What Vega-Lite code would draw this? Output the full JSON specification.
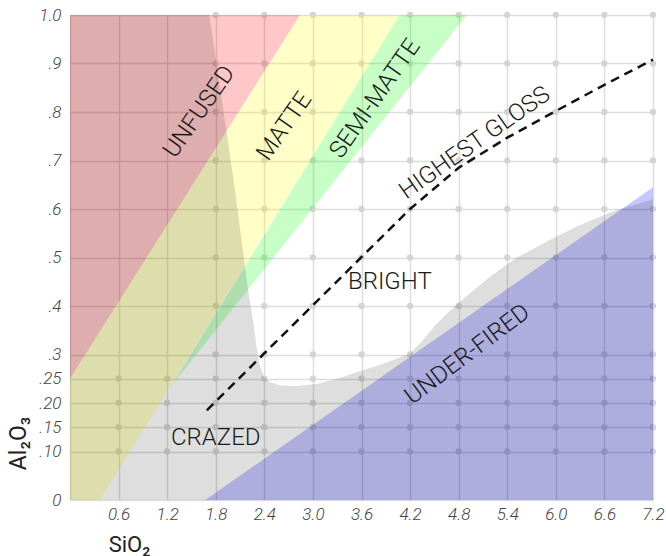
{
  "$schema": "https://vega.github.io/schema/vega-lite/v6.json",
  "width": 583,
  "height": 485,
  "autosize": "none",
  "padding": {"left": 70, "top": 15, "right": 13, "bottom": 56},
  "background": "white",
  "config": {"view": {"stroke": null}},
  "datasets": {
    "dots": [
      {"x":0.6,"y":0.1},{"x":1.2,"y":0.1},{"x":1.8,"y":0.1},{"x":2.4,"y":0.1},{"x":3.0,"y":0.1},{"x":3.6,"y":0.1},{"x":4.2,"y":0.1},{"x":4.8,"y":0.1},{"x":5.4,"y":0.1},{"x":6.0,"y":0.1},{"x":6.6,"y":0.1},{"x":7.2,"y":0.1},
      {"x":0.6,"y":0.15},{"x":1.2,"y":0.15},{"x":1.8,"y":0.15},{"x":2.4,"y":0.15},{"x":3.0,"y":0.15},{"x":3.6,"y":0.15},{"x":4.2,"y":0.15},{"x":4.8,"y":0.15},{"x":5.4,"y":0.15},{"x":6.0,"y":0.15},{"x":6.6,"y":0.15},{"x":7.2,"y":0.15},
      {"x":0.6,"y":0.2},{"x":1.2,"y":0.2},{"x":1.8,"y":0.2},{"x":2.4,"y":0.2},{"x":3.0,"y":0.2},{"x":3.6,"y":0.2},{"x":4.2,"y":0.2},{"x":4.8,"y":0.2},{"x":5.4,"y":0.2},{"x":6.0,"y":0.2},{"x":6.6,"y":0.2},{"x":7.2,"y":0.2},
      {"x":0.6,"y":0.25},{"x":1.2,"y":0.25},{"x":1.8,"y":0.25},{"x":2.4,"y":0.25},{"x":3.0,"y":0.25},{"x":3.6,"y":0.25},{"x":4.2,"y":0.25},{"x":4.8,"y":0.25},{"x":5.4,"y":0.25},{"x":6.0,"y":0.25},{"x":6.6,"y":0.25},{"x":7.2,"y":0.25},
      {"x":1.8,"y":0.3},{"x":2.4,"y":0.3},{"x":3.0,"y":0.3},{"x":3.6,"y":0.3},{"x":4.2,"y":0.3},{"x":4.8,"y":0.3},{"x":5.4,"y":0.3},{"x":6.0,"y":0.3},{"x":6.6,"y":0.3},{"x":7.2,"y":0.3},
      {"x":1.8,"y":0.4},{"x":2.4,"y":0.4},{"x":3.0,"y":0.4},{"x":3.6,"y":0.4},{"x":4.2,"y":0.4},{"x":4.8,"y":0.4},{"x":5.4,"y":0.4},{"x":6.0,"y":0.4},{"x":6.6,"y":0.4},{"x":7.2,"y":0.4},
      {"x":1.8,"y":0.5},{"x":2.4,"y":0.5},{"x":3.0,"y":0.5},{"x":3.6,"y":0.5},{"x":4.2,"y":0.5},{"x":4.8,"y":0.5},{"x":5.4,"y":0.5},{"x":6.0,"y":0.5},{"x":6.6,"y":0.5},{"x":7.2,"y":0.5},
      {"x":1.8,"y":0.6},{"x":2.4,"y":0.6},{"x":3.0,"y":0.6},{"x":3.6,"y":0.6},{"x":4.2,"y":0.6},{"x":4.8,"y":0.6},{"x":5.4,"y":0.6},{"x":6.0,"y":0.6},{"x":6.6,"y":0.6},{"x":7.2,"y":0.6},
      {"x":1.8,"y":0.7},{"x":2.4,"y":0.7},{"x":3.0,"y":0.7},{"x":3.6,"y":0.7},{"x":4.2,"y":0.7},{"x":4.8,"y":0.7},{"x":5.4,"y":0.7},{"x":6.0,"y":0.7},{"x":6.6,"y":0.7},{"x":7.2,"y":0.7},
      {"x":1.8,"y":0.8},{"x":2.4,"y":0.8},{"x":3.0,"y":0.8},{"x":3.6,"y":0.8},{"x":4.2,"y":0.8},{"x":4.8,"y":0.8},{"x":5.4,"y":0.8},{"x":6.0,"y":0.8},{"x":6.6,"y":0.8},{"x":7.2,"y":0.8},
      {"x":1.8,"y":0.9},{"x":2.4,"y":0.9},{"x":3.0,"y":0.9},{"x":3.6,"y":0.9},{"x":4.2,"y":0.9},{"x":4.8,"y":0.9},{"x":5.4,"y":0.9},{"x":6.0,"y":0.9},{"x":6.6,"y":0.9},{"x":7.2,"y":0.9},
      {"x":1.8,"y":1.0},{"x":2.4,"y":1.0},{"x":3.0,"y":1.0},{"x":3.6,"y":1.0},{"x":4.2,"y":1.0},{"x":4.8,"y":1.0},{"x":5.4,"y":1.0},{"x":6.0,"y":1.0},{"x":6.6,"y":1.0},{"x":7.2,"y":1.0}
    ],
    "unfused": [
      {"x": 0, "y": 1.0, "y2": 0.25},
      {"x": 2.84, "y": 1.0, "y2": 1.0}
    ],
    "matte": [
      {"x": 0, "y": 0.25, "y2": 0},
      {"x": 0.37, "y": 0.348, "y2": 0},
      {"x": 2.84, "y": 1.0, "y2": 0.667},
      {"x": 4.07, "y": 1.0, "y2": 1.0}
    ],
    "semimatte": [
      {"x": 1.26, "y": 0.237, "y2": 0.237},
      {"x": 4.07, "y": 1.0, "y2": 0.826},
      {"x": 4.9, "y": 1.0, "y2": 1.0}
    ],
    "underfired": [
      {"x": 1.67, "y": 0, "y2": 0},
      {"x": 7.2, "y": 0.645, "y2": 0}
    ],
    "crazed": [
      {"x": 0, "y": 1.0},
      {"x": 1.72, "y": 1.0},
      {"x": 1.81, "y": 0.9},
      {"x": 1.93, "y": 0.763},
      {"x": 2.02, "y": 0.66},
      {"x": 2.14, "y": 0.51},
      {"x": 2.2, "y": 0.433},
      {"x": 2.26, "y": 0.37},
      {"x": 2.3, "y": 0.32},
      {"x": 2.34, "y": 0.28},
      {"x": 2.39, "y": 0.255},
      {"x": 2.47, "y": 0.243},
      {"x": 2.6, "y": 0.236},
      {"x": 2.8, "y": 0.235},
      {"x": 3.05, "y": 0.239},
      {"x": 3.3, "y": 0.25},
      {"x": 3.55, "y": 0.264},
      {"x": 3.85, "y": 0.28},
      {"x": 4.2, "y": 0.302},
      {"x": 4.35, "y": 0.328},
      {"x": 4.5, "y": 0.358},
      {"x": 4.7, "y": 0.392},
      {"x": 4.95, "y": 0.428},
      {"x": 5.2, "y": 0.462},
      {"x": 5.5, "y": 0.498},
      {"x": 5.8, "y": 0.525},
      {"x": 6.0, "y": 0.543},
      {"x": 6.3, "y": 0.567},
      {"x": 6.7, "y": 0.595},
      {"x": 7.2, "y": 0.62}
    ],
    "gloss": [
      {"x": 1.69, "y": 0.185},
      {"x": 4.2, "y": 0.6},
      {"x": 4.8, "y": 0.685},
      {"x": 5.4, "y": 0.747},
      {"x": 6.0, "y": 0.802},
      {"x": 6.6, "y": 0.856},
      {"x": 7.2, "y": 0.908}
    ],
    "labels": [
      {"label": "UNFUSED", "x": 1.6, "y": 0.8, "kind": "steep"},
      {"label": "MATTE", "x": 2.65, "y": 0.77, "kind": "steep"},
      {"label": "SEMI-MATTE", "x": 3.77, "y": 0.827, "kind": "steep"},
      {"label": "HIGHEST GLOSS", "x": 5.0, "y": 0.736, "kind": "gloss"},
      {"label": "UNDER-FIRED", "x": 4.91, "y": 0.3, "kind": "under"},
      {"label": "BRIGHT", "x": 3.95, "y": 0.45, "kind": "flat"},
      {"label": "CRAZED", "x": 1.8, "y": 0.128, "kind": "flat"}
    ]
  },
  "encoding": {
    "x": {
      "field": "x", "type": "quantitative",
      "scale": {"domain": [0, 7.2], "nice": false, "zero": false},
      "axis": {
        "values": [0, 0.6, 1.2, 1.8, 2.4, 3.0, 3.6, 4.2, 4.8, 5.4, 6.0, 6.6, 7.2],
        "labelExpr": "datum.value == 0 ? '' : format(datum.value, '.1f')",
        "domain": false, "ticks": false,
        "grid": true, "gridColor": "#dddddd", "gridWidth": 1.5,
        "labelFont": "Roboto", "labelFontSize": 17, "labelFontStyle": "italic", "labelFontWeight": 300,
        "labelColor": "#444444", "labelPadding": 6, "labelOverlap": false, "labelFlush": false,
        "title": "SiO₂", "titleFont": "Roboto", "titleFontSize": 22, "titleFontWeight": "normal", "titleColor": "#222222",
        "titleX": 59, "titleY": 51, "titleAlign": "center", "titleBaseline": "alphabetic"
      }
    },
    "y": {
      "field": "y", "type": "quantitative",
      "scale": {"domain": [0, 1], "nice": false, "zero": false},
      "axis": {
        "values": [0, 0.1, 0.15, 0.2, 0.25, 0.3, 0.4, 0.5, 0.6, 0.7, 0.8, 0.9, 1.0],
        "labelExpr": "datum.value == 0 ? '0' : datum.value == 1 ? '1.0' : datum.value < 0.28 ? replace(format(datum.value, '.2f'), '0.', '.') : replace(format(datum.value, '.1f'), '0.', '.')",
        "domain": false, "ticks": false,
        "grid": true, "gridColor": "#dddddd", "gridWidth": 1.5,
        "labelFont": "Roboto", "labelFontSize": 17, "labelFontStyle": "italic", "labelFontWeight": 300,
        "labelColor": "#444444", "labelPadding": 9, "labelOverlap": false, "labelFlush": false,
        "title": "Al₂O₃", "titleFont": "Roboto", "titleFontSize": 23, "titleFontWeight": "normal", "titleColor": "#222222",
        "titleAngle": 270, "titleX": -45, "titleY": 428, "titleAlign": "center", "titleBaseline": "alphabetic"
      }
    }
  },
  "layer": [
    {
      "data": {"name": "dots"},
      "mark": {"type": "circle", "size": 40, "color": "#d4d4d4", "opacity": 1}
    },
    {
      "data": {"name": "unfused"},
      "mark": {"type": "area", "color": "#ff0000", "opacity": 0.22},
      "encoding": {"y2": {"field": "y2"}}
    },
    {
      "data": {"name": "matte"},
      "mark": {"type": "area", "color": "#ffff00", "opacity": 0.22},
      "encoding": {"y2": {"field": "y2"}}
    },
    {
      "data": {"name": "semimatte"},
      "mark": {"type": "area", "color": "#00ff00", "opacity": 0.22},
      "encoding": {"y2": {"field": "y2"}}
    },
    {
      "data": {"name": "underfired"},
      "mark": {"type": "area", "color": "#0000ff", "opacity": 0.22},
      "encoding": {"y2": {"field": "y2"}}
    },
    {
      "data": {"name": "crazed"},
      "mark": {"type": "area", "color": "#000000", "opacity": 0.13},
      "encoding": {"y2": {"datum": 0}}
    },
    {
      "data": {"name": "gloss"},
      "mark": {"type": "line", "color": "#111111", "strokeWidth": 2.5, "strokeDash": [9, 6]}
    },
    {
      "data": {"name": "labels"},
      "transform": [{"filter": "datum.kind == 'steep'"}],
      "mark": {"type": "text", "font": "Roboto", "fontSize": 24, "fontWeight": 300, "color": "#1a1a1a", "angle": 305, "align": "center", "baseline": "middle"},
      "encoding": {"text": {"field": "label"}}
    },
    {
      "data": {"name": "labels"},
      "transform": [{"filter": "datum.kind == 'gloss'"}],
      "mark": {"type": "text", "font": "Roboto", "fontSize": 24, "fontWeight": 300, "color": "#1a1a1a", "angle": 325, "align": "center", "baseline": "middle"},
      "encoding": {"text": {"field": "label"}}
    },
    {
      "data": {"name": "labels"},
      "transform": [{"filter": "datum.kind == 'under'"}],
      "mark": {"type": "text", "font": "Roboto", "fontSize": 24, "fontWeight": 300, "color": "#1a1a1a", "angle": 323, "align": "center", "baseline": "middle"},
      "encoding": {"text": {"field": "label"}}
    },
    {
      "data": {"name": "labels"},
      "transform": [{"filter": "datum.kind == 'flat'"}],
      "mark": {"type": "text", "font": "Roboto", "fontSize": 24, "fontWeight": 300, "color": "#1a1a1a", "angle": 0, "align": "center", "baseline": "middle"},
      "encoding": {"text": {"field": "label"}}
    }
  ]
}
